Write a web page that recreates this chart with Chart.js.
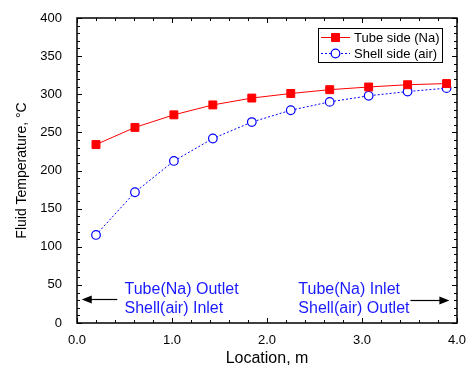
<!DOCTYPE html>
<html>
<head>
<meta charset="utf-8">
<script src="https://cdn.jsdelivr.net/npm/chart.js@4/dist/chart.umd.min.js"></script>
<style>
  html, body { margin: 0; padding: 0; background: #fff; }
  #wrap { width: 473px; height: 370px; }
</style>
</head>
<body>
<div id="wrap"><canvas id="c" width="473" height="370"></canvas></div>
<script>
// ---- data ----
const locations = [0.2, 0.61, 1.02, 1.43, 1.84, 2.25, 2.66, 3.07, 3.48, 3.89];
const tubeSideNa = [234, 256.5, 273, 286, 295, 301, 306, 309.5, 312.5, 314];
const shellSideAir = [115.5, 171.5, 212.5, 242, 263.5, 279, 290, 298, 303.5, 308];
const seriesNames = ['Tube side (Na)', 'Shell side (air)'];
const xTickValues = [0, 1, 2, 3, 4];
const yTickValues = [0, 50, 100, 150, 200, 250, 300, 350, 400];
const leftNoteLines = ['Tube(Na) Outlet', 'Shell(air) Inlet'];
const rightNoteLines = ['Tube(Na) Inlet', 'Shell(air) Outlet'];
const xTitle = 'Location, m';
const yTitle = 'Fluid Temperature, \u00B0C';

const FONT = "'Liberation Sans', Arial, Helvetica, sans-serif";
Chart.defaults.font.family = FONT;
Chart.defaults.color = '#000';

function pts(ys) { return locations.map((x, i) => ({ x: x, y: ys[i] })); }

const framePlugin = {
  id: 'frame',
  afterDraw(chart) {
    const ctx = chart.ctx;
    const a = chart.chartArea;
    const xs = chart.scales.x, ys = chart.scales.y;
    ctx.save();
    ctx.strokeStyle = '#000';
    ctx.lineWidth = 1.5;
    ctx.strokeRect(a.left, a.top, a.right - a.left, a.bottom - a.top);
    ctx.lineWidth = 1;
    ctx.beginPath();
    // x ticks (major every 1, minor every 0.2), inward top & bottom
    for (let k = 0; k <= 20; k++) {
      const v = k * 0.2;
      const px = Math.round(xs.getPixelForValue(v)) + 0.5;
      const len = (k % 5 === 0) ? 5 : 3;
      ctx.moveTo(px, a.bottom); ctx.lineTo(px, a.bottom - len);
      ctx.moveTo(px, a.top); ctx.lineTo(px, a.top + len);
    }
    // y ticks (major every 50, minor every 10), inward left & right
    for (let k = 0; k <= 40; k++) {
      const v = k * 10;
      const py = Math.round(ys.getPixelForValue(v)) + 0.5;
      const len = (k % 5 === 0) ? 5 : 3;
      ctx.moveTo(a.left, py); ctx.lineTo(a.left + len, py);
      ctx.moveTo(a.right, py); ctx.lineTo(a.right - len, py);
    }
    ctx.stroke();

    // annotations
    ctx.fillStyle = '#1a1aff';
    ctx.font = '16px ' + FONT;
    ctx.textAlign = 'left';
    ctx.textBaseline = 'alphabetic';
    ctx.fillText(leftNoteLines[0], xs.getPixelForValue(0.50), ys.getPixelForValue(38.5));
    ctx.fillText(leftNoteLines[1], xs.getPixelForValue(0.50), ys.getPixelForValue(13.5));
    ctx.fillText(rightNoteLines[0], xs.getPixelForValue(2.33), ys.getPixelForValue(38.5));
    ctx.fillText(rightNoteLines[1], xs.getPixelForValue(2.33), ys.getPixelForValue(13.5));

    // arrows
    function arrow(x1, x2, yv) {
      const p1 = xs.getPixelForValue(x1), p2 = xs.getPixelForValue(x2);
      const py = Math.round(ys.getPixelForValue(yv)) + 0.5;
      const dir = p2 > p1 ? 1 : -1;
      ctx.strokeStyle = '#000';
      ctx.lineWidth = 1.2;
      ctx.beginPath();
      ctx.moveTo(p1, py); ctx.lineTo(p2 - dir * 8, py);
      ctx.stroke();
      ctx.fillStyle = '#000';
      ctx.beginPath();
      ctx.moveTo(p2, py);
      ctx.lineTo(p2 - dir * 10, py - 4);
      ctx.lineTo(p2 - dir * 10, py + 4);
      ctx.closePath();
      ctx.fill();
    }
    arrow(0.424, 0.05, 31.5);
    arrow(3.51, 3.92, 30.5);

    // legend box
    const lx = 318, ly = 28, lw = 124, lh = 34;
    ctx.strokeStyle = '#000';
    ctx.lineWidth = 1;
    ctx.strokeRect(lx + 0.5, ly + 0.5, lw, lh);
    const rows = [ly + 9.5, ly + 25.5];
    chart.data.datasets.forEach((ds, i) => {
      const yy = rows[i];
      ctx.save();
      ctx.strokeStyle = ds.borderColor;
      ctx.lineWidth = 1;
      ctx.setLineDash(ds.borderDash || []);
      ctx.beginPath();
      ctx.moveTo(lx + 3, yy); ctx.lineTo(lx + 32, yy);
      ctx.stroke();
      ctx.setLineDash([]);
      ctx.fillStyle = ds.pointBackgroundColor;
      ctx.strokeStyle = ds.borderColor;
      ctx.lineWidth = ds.pointBorderWidth;
      ctx.beginPath();
      if (ds.pointStyle === 'rect') {
        ctx.rect(lx + 17.5 - 4, yy - 4, 8, 8);
      } else {
        ctx.arc(lx + 17.5, yy, ds.pointRadius, 0, Math.PI * 2);
      }
      ctx.fill(); ctx.stroke();
      ctx.restore();
      ctx.fillStyle = '#000';
      ctx.font = '13px ' + FONT;
      ctx.textBaseline = 'middle';
      ctx.textAlign = 'left';
      ctx.fillText(ds.label, lx + 36, yy + 0.5);
    });
    ctx.restore();
  }
};

new Chart(document.getElementById('c'), {
  type: 'line',
  data: {
    datasets: [
      {
        label: seriesNames[0],
        data: pts(tubeSideNa),
        borderColor: '#ff0000',
        backgroundColor: '#ff0000',
        borderWidth: 1,
        pointStyle: 'rect',
        pointRadius: 5.6,
        pointBackgroundColor: '#ff0000',
        pointBorderColor: '#ff0000',
        pointBorderWidth: 1,
        tension: 0
      },
      {
        label: seriesNames[1],
        data: pts(shellSideAir),
        borderColor: '#0000ff',
        backgroundColor: '#ffffff',
        borderWidth: 1,
        borderDash: [2, 2],
        pointStyle: 'circle',
        pointRadius: 4.3,
        pointBackgroundColor: '#ffffff',
        pointBorderColor: '#0000ff',
        pointBorderWidth: 1.2,
        tension: 0
      }
    ]
  },
  options: {
    responsive: false,
    devicePixelRatio: 1,
    animation: false,
    layout: { padding: { left: 0, top: 18, right: 16, bottom: 0 } },
    plugins: { legend: { display: false }, tooltip: { enabled: false } },
    scales: {
      x: {
        type: 'linear',
        min: 0, max: 4,
        afterFit(s) { s.height = 47; },
        afterBuildTicks(s) { s.ticks = xTickValues.map(v => ({ value: v })); },
        ticks: { font: { size: 13 }, padding: 2, maxRotation: 0, callback: v => v.toFixed(1) },
        grid: { display: false },
        border: { display: false },
        title: { display: true, text: xTitle, font: { size: 16 }, padding: { top: 0, bottom: 2 } }
      },
      y: {
        type: 'linear',
        min: 0, max: 400,
        afterFit(s) { s.width = 77; },
        afterBuildTicks(s) { s.ticks = yTickValues.map(v => ({ value: v })); },
        ticks: { font: { size: 13 }, padding: 7 },
        grid: { display: false },
        border: { display: false },
        title: { display: true, text: yTitle, font: { size: 14 }, padding: { top: 13.6, bottom: 0 } }
      }
    }
  },
  plugins: [framePlugin]
});
</script>
</body>
</html>
